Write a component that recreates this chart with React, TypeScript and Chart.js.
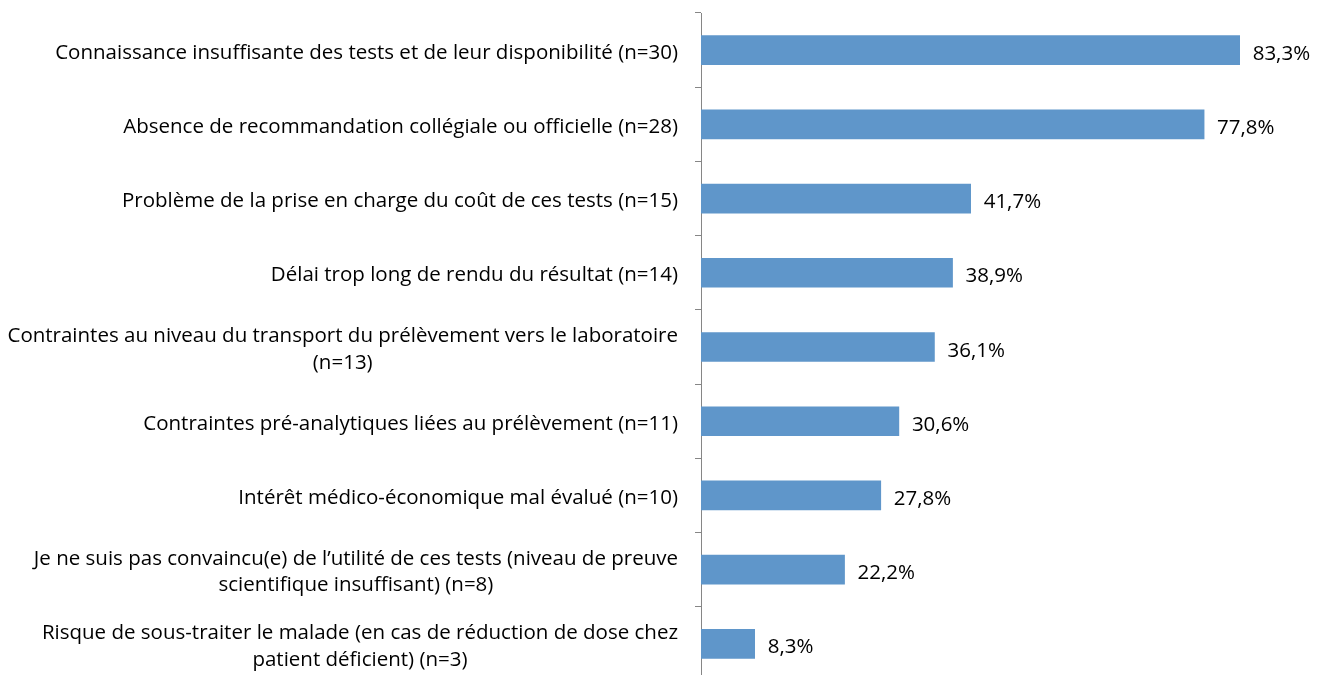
import React, { useEffect, useRef } from "react";
import { Chart, registerables } from "chart.js";

Chart.register(...registerables);

const categories: string[][] = [
  ["Connaissance insuffisante des tests et de leur disponibilité (n=30)"],
  ["Absence de recommandation collégiale ou officielle (n=28)"],
  ["Problème de la prise en charge du coût de ces tests (n=15)"],
  ["Délai trop long de rendu du résultat (n=14)"],
  ["Contraintes au niveau du transport du prélèvement vers le laboratoire", "(n=13)"],
  ["Contraintes pré-analytiques liées au prélèvement (n=11)"],
  ["Intérêt médico-économique mal évalué (n=10)"],
  ["Je ne suis pas convaincu(e) de l’utilité de ces tests (niveau de preuve", "scientifique insuffisant) (n=8)"],
  ["Risque de sous-traiter le malade (en cas de réduction de dose chez", "patient déficient) (n=3)"],
];

const values: number[] = [83.3, 77.8, 41.7, 38.9, 36.1, 30.6, 27.8, 22.2, 8.3];

const valueLabels: string[] = ["83,3%", "77,8%", "41,7%", "38,9%", "36,1%", "30,6%", "27,8%", "22,2%", "8,3%"];

const FONT = "20.5px 'Open Sans'";

const labelPlugin = {
  id: "customLabels",
  afterDraw(chart: any) {
    const ctx = chart.ctx;
    const y = chart.scales.y;
    const x = chart.scales.x;
    ctx.save();
    ctx.font = FONT;
    ctx.fillStyle = "#000000";
    ctx.textBaseline = "alphabetic";
    ctx.textAlign = "center";
    const lh = 26.5;
    const base = 8.5;
    categories.forEach((lines, i) => {
      const cy = y.getPixelForValue(i);
      const w = Math.max(...lines.map((l) => ctx.measureText(l).width));
      const right = 678;
      const cx = right - w / 2;
      lines.forEach((l, j) => {
        ctx.fillText(l, cx, cy + base + (j - (lines.length - 1) / 2) * lh);
      });
    });
    ctx.textAlign = "left";
    values.forEach((v, i) => {
      const cy = y.getPixelForValue(i);
      const px = x.getPixelForValue(v);
      ctx.fillText(valueLabels[i], px + 13, cy + base + 1);
    });
    ctx.restore();
  },
};

export default function App() {
  const ref = useRef<HTMLCanvasElement | null>(null);
  useEffect(() => {
    document.body.style.margin = "0";
    if (!ref.current) return;
    const chart = new Chart(ref.current, {
      type: "bar",
      data: {
        labels: categories.map((c) => c.join(" ")),
        datasets: [
          {
            data: values,
            backgroundColor: "#5F96CA",
            borderColor: "#5F96CA",
            borderWidth: 0,
            barThickness: 29,
          },
        ],
      },
      options: {
        indexAxis: "y",
        animation: false,
        responsive: false,
        maintainAspectRatio: false,
        layout: { padding: { top: 13, bottom: 9, left: 0, right: 42 } },
        plugins: { legend: { display: false }, tooltip: { enabled: false } },
        scales: {
          x: { display: false, min: 0, max: 90 },
          y: {
            type: "category",
            afterFit(s: any) {
              s.width = 701;
            },
            ticks: { display: false },
            grid: {
              offset: true,
              drawOnChartArea: false,
              drawTicks: true,
              tickLength: 6,
              color: "#868686",
            },
            border: { display: true, color: "#868686", width: 1 },
          },
        },
      },
      plugins: [labelPlugin],
    });
    return () => chart.destroy();
  }, []);
  return (
    <div style={{ position: "absolute", left: 0, top: 0 }}>
      <canvas ref={ref} width={1325} height={690} style={{ width: 1325, height: 690 }} />
    </div>
  );
}
